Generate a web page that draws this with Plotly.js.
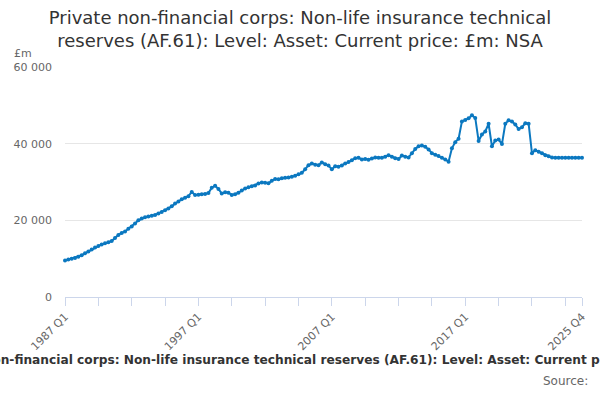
<!DOCTYPE html>
<html>
<head>
<meta charset="utf-8">
<script src="https://cdn.plot.ly/plotly-3.0.1.min.js"></script>
<style>html,body{margin:0;padding:0;background:#fff;}#chart{width:600px;height:400px;}</style>
</head>
<body>
<div id="chart"></div>
<script>
// Quarterly values, £m, 1987 Q1 .. 2025 Q4
var firstYear = 1987;
var lastYear = 2025;
var values = [
  9500, 9800, 10000, 10200, 10500, 10900, 11400, 11900, 12400, 12900,
  13300, 13700, 14000, 14300, 14600, 15400, 16200, 16700, 17100, 17800,
  18400, 19200, 20000, 20500, 20800, 21000, 21200, 21400, 21800, 22200,
  22600, 23100, 23700, 24400, 24900, 25500, 25900, 26300, 27400, 26600,
  26700, 26800, 26900, 27100, 28500, 29000, 28200, 27000, 27300, 27200,
  26600, 26800, 27200, 27800, 28300, 28600, 28900, 29100, 29600, 29900,
  29800, 29700, 30300, 30800, 30700, 31000, 31100, 31200, 31400, 31600,
  32000, 32400, 33300, 34400, 34800, 34500, 34400, 35100, 34600, 34300,
  33300, 34100, 34000, 34300, 34800, 35200, 35700, 36200, 36300, 35900,
  36000, 35800, 36100, 36400, 36300, 36300, 36600, 37000, 36600, 36200,
  36000, 36900, 36600, 36400, 37500, 38600, 39300, 39500, 39200, 38500,
  37500, 37100, 36800, 36300, 35900, 35300, 38800, 40400, 41300, 45800,
  46200, 46600, 47400, 46700, 40700, 42400, 43200, 45200, 39300, 40800,
  41100, 39900, 45200, 46100, 45800, 45000, 43800, 44300, 45300, 45200,
  37500, 38300, 37900, 37500, 37000, 36700, 36400, 36300, 36300, 36300,
  36300, 36300, 36300, 36300, 36300, 36300
];
var quarterNames = ["Q1", "Q2", "Q3", "Q4"];
var labeledTicks = ["1987 Q1", "1997 Q1", "2007 Q1", "2017 Q1", "2025 Q4"];
var titleText = "Private non-financial corps: Non-life insurance technical reserves (AF.61): Level: Asset: Current price: £m: NSA";
var unitLabel = "£m";
var sourceLabel = "Source:";

var categories = [];
for (var y = firstYear; y <= lastYear; y++) {
  for (var k = 0; k < 4; k++) categories.push(y + " " + quarterNames[k]);
}
var tickvals = [];
for (var i = 0; i < categories.length; i += 10) tickvals.push(categories[i]);
tickvals.push(categories[categories.length - 1]);
var ticktext = tickvals.map(function (c) { return labeledTicks.indexOf(c) >= 0 ? c : ""; });

var font = "DejaVu Sans, Arial, sans-serif";
var blue = "#0b78c0";

var trace = {
  x: categories,
  y: values,
  type: "scatter",
  mode: "lines+markers",
  line: {color: blue, width: 2},
  marker: {color: blue, size: 4},
  cliponaxis: false,
  hoverinfo: "x+y"
};

var layout = {
  width: 600,
  height: 400,
  margin: {l: 65, r: 18, t: 67, b: 103},
  paper_bgcolor: "#fff",
  plot_bgcolor: "#fff",
  separators: ". ",
  showlegend: false,
  font: {family: font, color: "#666", size: 11},
  title: {
    text: "Private non-financial corps: Non-life insurance technical<br>reserves (AF.61): Level: Asset: Current price: £m: NSA",
    font: {family: font, size: 18, color: "#333"},
    x: 0.5, xanchor: "center",
    y: 0.94, yanchor: "top", yref: "container"
  },
  xaxis: {
    type: "category",
    range: [0, categories.length - 1],
    tickmode: "array",
    tickvals: tickvals,
    ticktext: ticktext,
    tickangle: -45,
    ticks: "outside",
    ticklen: 8,
    tickcolor: "#ccd6eb",
    showline: true,
    linecolor: "#ccd6eb",
    linewidth: 1,
    showgrid: false,
    zeroline: false,
    tickfont: {family: font, size: 11, color: "#666"}
  },
  yaxis: {
    range: [0, 60000],
    tickvals: [0, 20000, 40000, 60000],
    tickformat: ",d",
    showgrid: true,
    gridcolor: "#e6e6e6",
    zeroline: false,
    showline: false,
    ticks: "",
    ticklabelstandoff: 12,
    tickfont: {family: font, size: 11, color: "#666"}
  },
  annotations: [
    {text: unitLabel, xref: "paper", yref: "paper", x: -0.102, y: 1.057, xanchor: "left", yanchor: "middle",
     showarrow: false, font: {family: font, size: 11, color: "#666"}},
    {text: "<b>" + titleText + "</b>", xref: "paper", yref: "paper", x: 0.477, y: -0.275, xanchor: "center", yanchor: "middle",
     showarrow: false, font: {family: font, size: 12.2, color: "#333"}},
    {text: sourceLabel, xref: "paper", yref: "paper", x: 1.015, y: -0.365, xanchor: "right", yanchor: "middle",
     showarrow: false, font: {family: font, size: 12, color: "#666"}}
  ]
};

Plotly.newPlot("chart", [trace], layout, {displayModeBar: false, staticPlot: true});
</script>
</body>
</html>
